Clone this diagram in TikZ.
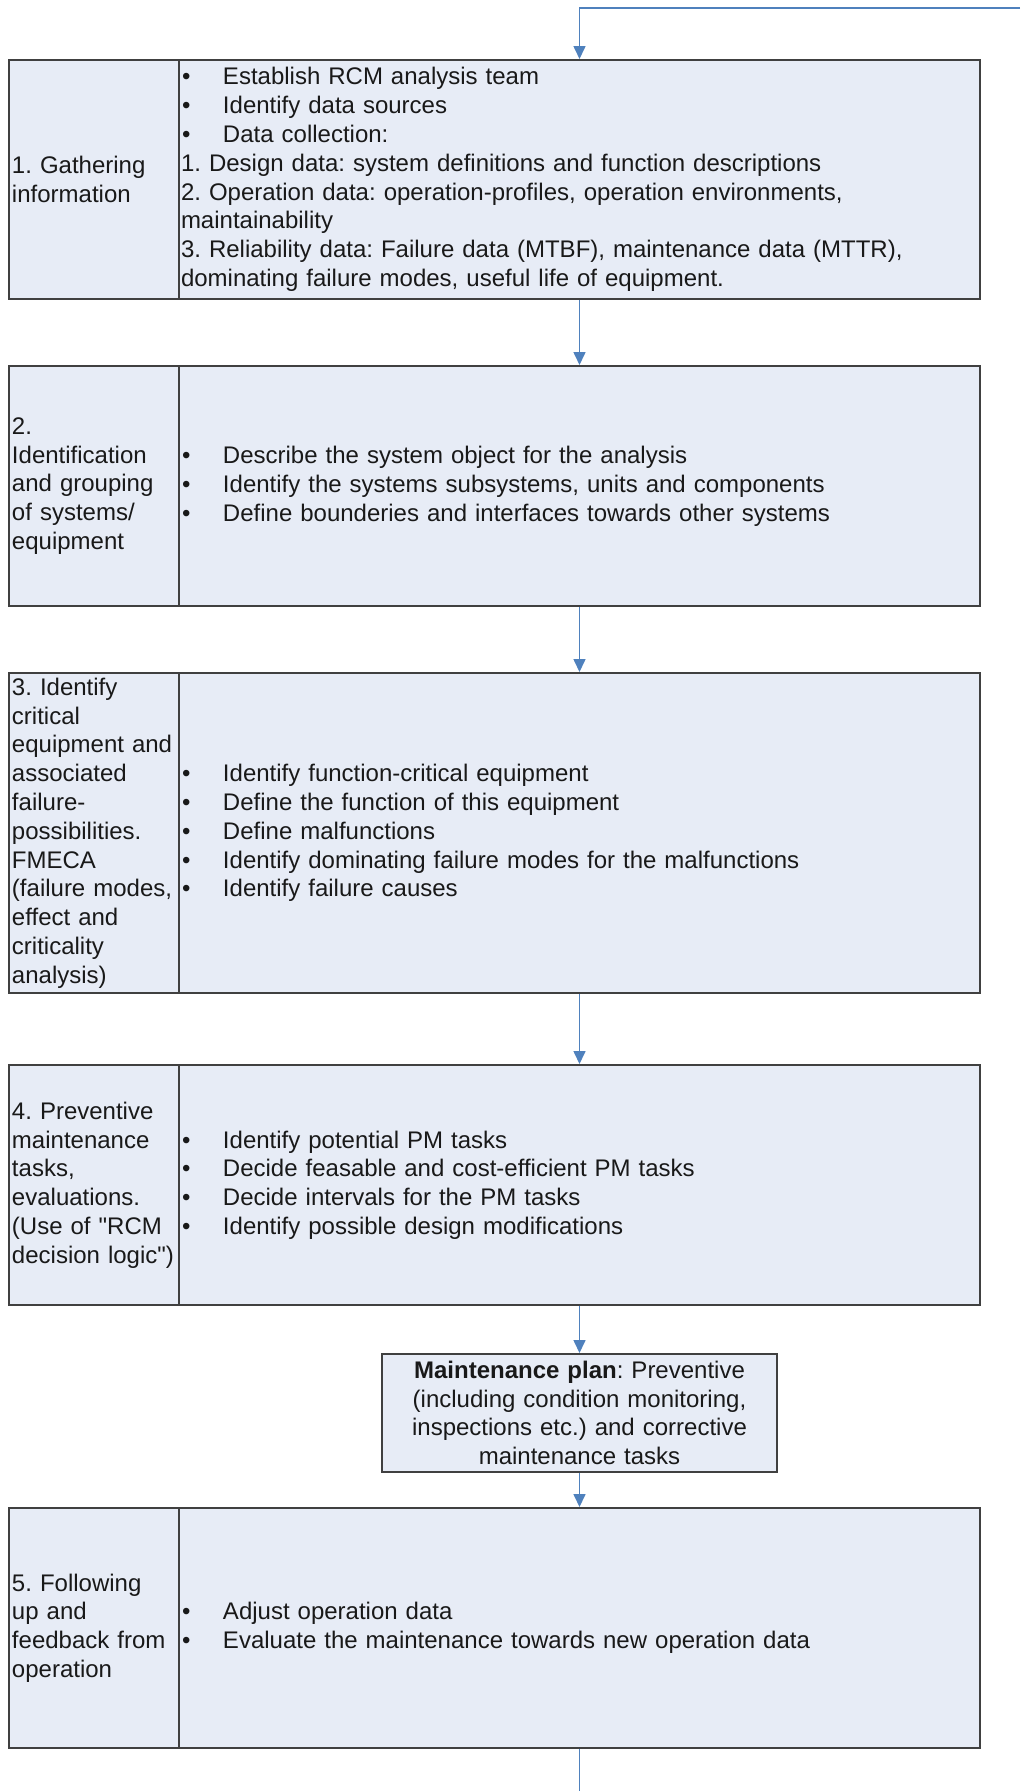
\documentclass[tikz,border=0pt]{standalone}
\usepackage{fontspec}
\setmainfont{Liberation Sans}[Ligatures=TeXOff]
\usetikzlibrary{arrows.meta}
\definecolor{boxfill}{RGB}{231,236,246}
\definecolor{boxline}{RGB}{64,64,64}
\definecolor{arrowblue}{RGB}{79,129,189}
\definecolor{txt}{RGB}{25,25,25}
\newcommand\bulletitem{\makebox[42pt][l]{\hspace{1pt}\textbullet}}
\frenchspacing

\begin{document}
\begin{tikzpicture}[x=1pt,y=-1pt,
  cell/.style={draw=boxline, line width=2pt, fill=boxfill, rectangle, inner ysep=0pt,
    text=txt, font=\fontsize{24}{28.8}\selectfont\frenchspacing, align=left},
  lcell/.style={cell, text width=164pt, inner xsep=3pt},
  rcell/.style={cell, text width=797pt, inner xsep=2pt},
  plan/.style={cell, text width=389pt, inner xsep=3pt, align=center, minimum height=118pt},
  flow/.style={draw=arrowblue, line width=1.6pt},
  arr/.style={flow, -{Triangle[width=12pt,length=13pt]}}]

\useasboundingbox (0,0) rectangle (1020,1791);

% Box 1
\node[lcell, minimum height=239pt] (b1l) at (94,179.5) {1. Gathering\\information};
\node[rcell, minimum height=239pt] (b1r) at (579.5,179.5) {\bulletitem Establish RCM analysis team\\
\bulletitem Identify data sources\\
\bulletitem Data collection:\\
1. Design data: system definitions and function descriptions\\
2. Operation data: operation-profiles, operation environments,\\
maintainability\\
3. Reliability data: Failure data (MTBF), maintenance data (MTTR),\\
dominating failure modes, useful life of equipment.};

% Box 2
\node[lcell, minimum height=240pt] (b2l) at (94,486) {2.\\Identification\\and grouping\\of systems/\\equipment};
\node[rcell, minimum height=240pt] (b2r) at (579.5,486) {\bulletitem Describe the system object for the analysis\\
\bulletitem Identify the systems subsystems, units and components\\
\bulletitem Define bounderies and interfaces towards other systems};

% Box 3
\node[lcell, minimum height=320pt] (b3l) at (94,833) {3. Identify\\critical\\equipment and\\associated\\failure-\\possibilities.\\FMECA\\(failure modes,\\effect and\\criticality\\analysis)};
\node[rcell, minimum height=320pt] (b3r) at (579.5,833) {\bulletitem Identify function-critical equipment\\
\bulletitem Define the function of this equipment\\
\bulletitem Define malfunctions\\
\bulletitem Identify dominating failure modes for the malfunctions\\
\bulletitem Identify failure causes};

% Box 4
\node[lcell, minimum height=240pt] (b4l) at (94,1185) {4. Preventive\\maintenance\\tasks,\\evaluations.\\(Use of "RCM\\decision logic")};
\node[rcell, minimum height=240pt] (b4r) at (579.5,1185) {\bulletitem Identify potential PM tasks\\
\bulletitem Decide feasable and cost-efficient PM tasks\\
\bulletitem Decide intervals for the PM tasks\\
\bulletitem Identify possible design modifications};

% Maintenance plan
\node[plan] (mp) at (579.5,1413) {\textbf{Maintenance plan}: Preventive\\(including condition monitoring,\\inspections etc.) and corrective\\maintenance tasks};

% Box 5
\node[lcell, minimum height=240pt] (b5l) at (94,1628) {5. Following\\up and\\feedback from\\operation};
\node[rcell, minimum height=240pt] (b5r) at (579.5,1628) {\bulletitem Adjust operation data\\
\bulletitem Evaluate the maintenance towards new operation data};

% Connectors
\coordinate (fbin) at (1020,8);
\coordinate (fbout) at (579.5,1791);
\draw[arr] (fbin) -| (b1r.north);
\draw[arr] (b1r.south) -- (b2r.north);
\draw[arr] (b2r.south) -- (b3r.north);
\draw[arr] (b3r.south) -- (b4r.north);
\draw[arr] (b4r.south) -- (mp.north);
\draw[arr] (mp.south) -- (b5r.north);
\draw[flow] (b5r.south) -- (fbout);
\end{tikzpicture}
\end{document}
